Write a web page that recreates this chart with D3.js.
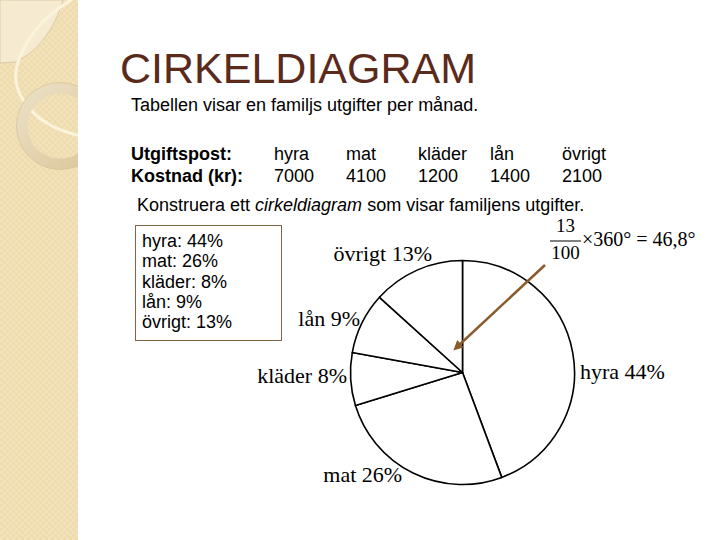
<!DOCTYPE html>
<html>
<head>
<meta charset="utf-8">
<script src="https://cdn.jsdelivr.net/npm/d3@7"></script>
<style>
  html, body { margin: 0; padding: 0; background: #fff; }
  svg { display: block; }
</style>
</head>
<body>
<svg id="chart" width="720" height="540"></svg>
<script>
// ---- data ----
const categories = ["hyra", "mat", "kläder", "lån", "övrigt"];
const costs = [7000, 4100, 1200, 1400, 2100];
const highlightIndex = 4; // övrigt, used in the formula
const titleText = "CIRKELDIAGRAM";
const introText = "Tabellen visar en familjs utgifter per månad.";
const rowLabels = ["Utgiftspost:", "Kostnad (kr):"];

// ---- layout ----
const svg = d3.select("#chart");
const W = 720, H = 540;
const sans = "'Liberation Sans', Arial, sans-serif";
const serif = "'Liberation Serif', 'Times New Roman', serif";
const bodySize = 18;

// left decorative strip
const defs = svg.append("defs");
const pat = defs.append("pattern").attr("id", "chk").attr("width", 6).attr("height", 6)
  .attr("patternUnits", "userSpaceOnUse");
pat.append("rect").attr("width", 6).attr("height", 6).attr("fill", "#f2e2ba");
pat.append("rect").attr("width", 3).attr("height", 3).attr("fill", "#eedbae");
pat.append("rect").attr("x", 3).attr("y", 3).attr("width", 3).attr("height", 3).attr("fill", "#eedbae");
defs.append("clipPath").attr("id", "stripClip").append("rect").attr("width", 78).attr("height", H);
const ringGrad = defs.append("linearGradient").attr("id", "ringGrad")
  .attr("x1", 0).attr("y1", 0).attr("x2", 1).attr("y2", 1);
ringGrad.append("stop").attr("offset", "0%").attr("stop-color", "#ebe0c6");
ringGrad.append("stop").attr("offset", "100%").attr("stop-color", "#dcc79a");
const arrowM = defs.append("marker").attr("id", "arr").attr("viewBox", "0 0 10 10")
  .attr("refX", 5).attr("refY", 5).attr("markerWidth", 4).attr("markerHeight", 4)
  .attr("orient", "auto-start-reverse");
arrowM.append("path").attr("d", "M0,0 L10,5 L0,10 z").attr("fill", "#8b5a2b");

const strip = svg.append("g").attr("clip-path", "url(#stripClip)");
strip.append("rect").attr("width", 78).attr("height", H).attr("fill", "url(#chk)");
strip.append("path")
  .attr("d", "M0,0 L63,0 C55,28 38,52 15,62 L0,63 Z")
  .attr("fill", "#f6ebd0").attr("stroke", "#cdb892").attr("stroke-width", 0.6);
strip.append("path")
  .attr("d", d3.line().curve(d3.curveBasis)([[74,-2],[40,20],[16,60],[14,85],[28,110],[52,128],[80,136]]))
  .attr("fill", "none").attr("stroke", "#fbf4dc").attr("stroke-width", 3);
strip.append("circle").attr("cx", 60).attr("cy", 126).attr("r", 38)
  .attr("fill", "none").attr("stroke", "url(#ringGrad)").attr("stroke-width", 11);
strip.append("circle").attr("cx", 60).attr("cy", 126).attr("r", 43.5)
  .attr("fill", "none").attr("stroke", "#d6c295").attr("stroke-width", 0.7);

// title
svg.append("text").attr("x", 120).attr("y", 83)
  .attr("font-family", sans).attr("font-size", 43).attr("fill", "#5a2a1b")
  .text(titleText);

svg.append("text").attr("x", 131).attr("y", 111)
  .attr("font-family", sans).attr("font-size", bodySize).attr("fill", "#000")
  .text(introText);

// table
const colX = d3.scalePoint().domain(categories).range([274, 562]);
const rowY = [160, 182];
const tbl = svg.append("g").attr("font-family", sans).attr("font-size", bodySize).attr("fill", "#000");
rowLabels.forEach((t, i) => {
  tbl.append("text").attr("x", 131).attr("y", rowY[i]).attr("font-weight", "bold").text(t);
});
tbl.selectAll("text.cat").data(categories).join("text").attr("class", "cat")
  .attr("x", d => colX(d)).attr("y", rowY[0]).text(d => d);
tbl.selectAll("text.val").data(costs).join("text").attr("class", "val")
  .attr("x", (d, i) => colX(categories[i])).attr("y", rowY[1]).text(d => d);

// instruction
const ins = svg.append("text").attr("x", 137).attr("y", 211)
  .attr("font-family", sans).attr("font-size", bodySize).attr("fill", "#000");
ins.append("tspan").text("Konstruera ett ");
ins.append("tspan").attr("font-style", "italic").text("cirkeldiagram");
ins.append("tspan").text(" som visar familjens utgifter.");

// percentages
const total = d3.sum(costs);
const pct = costs.map(v => Math.round(v / total * 100));

// legend box
svg.append("rect").attr("x", 135.5).attr("y", 225.5).attr("width", 146).attr("height", 115)
  .attr("fill", "#fff").attr("stroke", "#806545").attr("stroke-width", 1);
svg.append("g").attr("font-family", sans).attr("font-size", bodySize).attr("fill", "#000")
  .selectAll("text").data(categories).join("text")
  .attr("x", 142).attr("y", (d, i) => 247 + i * 20.3)
  .text((d, i) => `${d}: ${pct[i]}%`);

// pie
const cx = 462.5, cy = 372.5, R = 112;
const pie = d3.pie().sort(null).value(d => d);
const arcs = pie(costs);
const arc = d3.arc().innerRadius(0).outerRadius(R);
const g = svg.append("g").attr("transform", `translate(${cx},${cy})`);
g.selectAll("path").data(arcs).join("path")
  .attr("d", arc).attr("fill", "#fff").attr("stroke", "#000").attr("stroke-width", 1.6)
  .attr("stroke-linejoin", "round");

// pie labels (angle in degrees clockwise from 12 o'clock, distance from centre)
const labelPlace = [
  { angle: 93.2, dist: 117.7, anchor: "start" },
  { angle: 208.9, dist: 125, anchor: "end" },
  { angle: 264.8, dist: 116, anchor: "end" },
  { angle: 294.4, dist: 112.6, anchor: "end" },
  { angle: 344.7, dist: 115.6, anchor: "end" }
];
g.selectAll("text.lbl").data(arcs).join("text").attr("class", "lbl")
  .attr("font-family", serif).attr("font-size", 22).attr("fill", "#000")
  .attr("text-anchor", (d, i) => labelPlace[i].anchor)
  .attr("x", (d, i) => labelPlace[i].dist * Math.sin(labelPlace[i].angle * Math.PI / 180))
  .attr("y", (d, i) => -labelPlace[i].dist * Math.cos(labelPlace[i].angle * Math.PI / 180))
  .text((d, i) => `${categories[i]} ${pct[i]}%`);

// formula
const deg = pct[highlightIndex] / 100 * 360;
const fx = 565.5;
const fg = svg.append("g").attr("font-family", serif).attr("fill", "#000");
fg.append("text").attr("x", fx).attr("y", 232).attr("font-size", 19).attr("text-anchor", "middle")
  .text(pct[highlightIndex]);
fg.append("line").attr("x1", 550).attr("x2", 581).attr("y1", 241).attr("y2", 241)
  .attr("stroke", "#000").attr("stroke-width", 1);
fg.append("text").attr("x", fx).attr("y", 259).attr("font-size", 19).attr("text-anchor", "middle")
  .text(100);
fg.append("text").attr("x", 582).attr("y", 246).attr("font-size", 20)
  .text(`×360° = ${deg.toFixed(1).replace(".", ",")}°`);

// annotation arrow
svg.append("line").attr("x1", 545).attr("y1", 265).attr("x2", 457).attr("y2", 347)
  .attr("stroke", "#8b5a2b").attr("stroke-width", 2.5).attr("marker-end", "url(#arr)");
</script>
</body>
</html>
